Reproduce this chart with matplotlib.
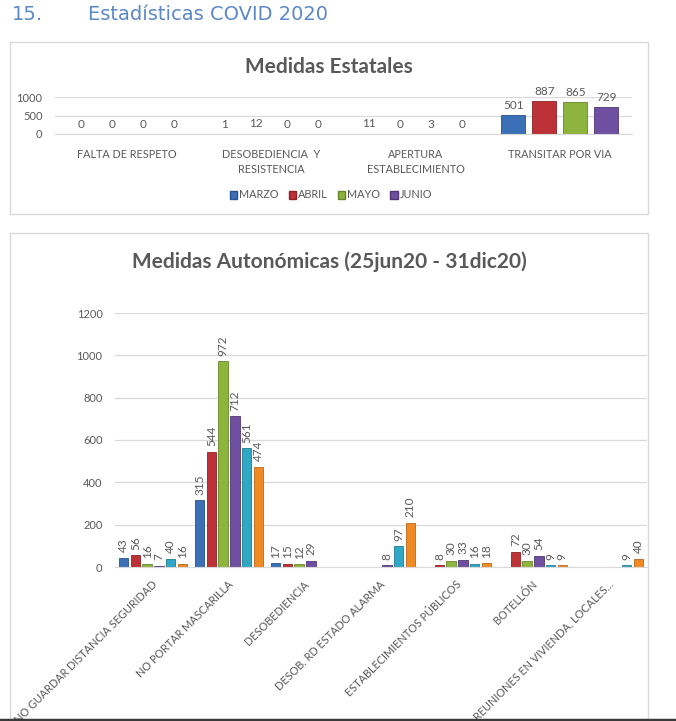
"""Estadísticas COVID 2020: medidas estatales y autonómicas (two bar panels)."""
import numpy as np
import matplotlib
matplotlib.use('Agg')
import matplotlib.pyplot as plt
from matplotlib.patches import Patch, Rectangle
from matplotlib.lines import Line2D

W, H = 676, 721
GRAY = '#595959'
GRID = '#d9d9d9'
FONT = ['Lato', 'DejaVu Sans']
plt.rcParams['font.family'] = FONT

# --- data: Medidas Estatales -------------------------------------------
est_categories = ['FALTA DE RESPETO', 'DESOBEDIENCIA  Y\nRESISTENCIA',
                  'APERTURA\nESTABLECIMIENTO', 'TRANSITAR POR VIA']
est_months = ['MARZO', 'ABRIL', 'MAYO', 'JUNIO']
est_marzo = [0, 1, 11, 501]
est_abril = [0, 12, 0, 887]
est_mayo = [0, 0, 3, 865]
est_junio = [0, 0, 0, 729]
est_ticks = [0, 500, 1000]

# --- data: Medidas Autonómicas (nan = no bar / no label) -----------------
aut_categories = ['NO GUARDAR DISTANCIA SEGURIDAD', 'NO PORTAR MASCARILLA',
                  'DESOBEDIENCIA', 'DESOB. RD ESTADO ALARMA',
                  'ESTABLECIMIENTOS PÚBLICOS', 'BOTELLÓN',
                  'REUNIONES EN VIVIENDA, LOCALES...']
nan = np.nan
aut_s1 = [43, 315, 17, nan, nan, nan, nan]
aut_s2 = [56, 544, 15, nan, 8, 72, nan]
aut_s3 = [16, 972, 12, nan, 30, 30, nan]
aut_s4 = [7, 712, 29, 8, 33, 54, nan]
aut_s5 = [40, 561, nan, 97, 16, 9, 9]
aut_s6 = [16, 474, nan, 210, 18, 9, 40]
aut_ticks = [0, 200, 400, 600, 800, 1000, 1200]

COLORS = ['#3c70b6', '#bd3237', '#8db43d', '#6f4f9f', '#2fa7c5', '#f08a24']
EDGES = ['#27528c', '#8c2226', '#66862a', '#4e3675', '#1f7d95', '#b8661a']


def px_axes(fig, left, top, right, bottom):
    return fig.add_axes([left / W, 1 - bottom / H, (right - left) / W, (bottom - top) / H])


def box(fig, left, top, right, bottom):
    fig.patches.append(Rectangle((left / W, 1 - bottom / H), (right - left) / W,
                                 (bottom - top) / H, transform=fig.transFigure,
                                 fill=False, edgecolor=GRID, linewidth=1.0, zorder=0))


def style_axes(ax, ticks):
    ax.set_yticks(ticks)
    ax.set_yticklabels([str(t) for t in ticks], fontsize=8, color=GRAY)
    ax.yaxis.grid(True, color=GRID, linewidth=0.9)
    ax.set_axisbelow(True)
    for s in ['top', 'right', 'left']:
        ax.spines[s].set_visible(False)
    ax.spines['bottom'].set_color(GRID)
    ax.tick_params(axis='both', length=0)
    ax.tick_params(axis='y', pad=9)


fig = plt.figure(figsize=(W / 100, H / 100), dpi=100)

# heading
fig.text(12 / W, 1 - 14 / H, '15.', fontsize=14, color='#5b88c6', va='center',
         family='DejaVu Sans')
fig.text(88 / W, 1 - 14 / H, 'Estadísticas COVID 2020', fontsize=14, color='#5b88c6',
         va='center', family='DejaVu Sans')

# ---------------- top panel ----------------
box(fig, 10, 42, 648, 214)
fig.text(329 / W, 1 - 67 / H, 'Medidas Estatales', fontsize=15, fontweight='bold',
         color=GRAY, ha='center', va='center')
ax1 = px_axes(fig, 55, 97, 632, 134)
x1 = np.arange(len(est_categories))
w1, step1 = 0.167, 0.215
handles = []
for i, (vals, name) in enumerate(zip([est_marzo, est_abril, est_mayo, est_junio], est_months)):
    pos = x1 + (i - 1.5) * step1
    ax1.bar(pos, vals, width=w1, color=COLORS[i], edgecolor=EDGES[i], linewidth=0.6)
    for xp, v in zip(pos, vals):
        ax1.annotate(str(v), (xp, v), xytext=(0, 3), textcoords='offset points',
                     ha='center', va='bottom', fontsize=8.5, color=GRAY,
                     annotation_clip=False)
    handles.append(Patch(facecolor=COLORS[i], edgecolor=EDGES[i], label=name))
ax1.set_xlim(-0.5, len(est_categories) - 0.5)
ax1.set_ylim(0, 1000)
style_axes(ax1, est_ticks)
ax1.set_xticks(x1)
ax1.set_xticklabels(est_categories, fontsize=7.8, color=GRAY, linespacing=1.4)
ax1.tick_params(axis='x', pad=11)
fig.legend(handles=handles, loc='center', bbox_to_anchor=(331 / W, 1 - 195 / H), ncol=4,
           frameon=False, fontsize=7.8, handlelength=0.7, handleheight=0.7,
           handletextpad=0.2, columnspacing=0.9, labelcolor=GRAY)

# ---------------- bottom panel ----------------
box(fig, 10, 233, 648, 760)
fig.text(329 / W, 1 - 262 / H, 'Medidas Autonómicas (25jun20 - 31dic20)', fontsize=15,
         fontweight='bold', color=GRAY, ha='center', va='center')
ax2 = px_axes(fig, 115, 313, 647, 567)
x2 = np.arange(len(aut_categories))
w2, step2 = 0.125, 0.154
for i, vals in enumerate([aut_s1, aut_s2, aut_s3, aut_s4, aut_s5, aut_s6]):
    pos = x2 + (i - 2.5) * step2
    ax2.bar(pos, vals, width=w2, color=COLORS[i], edgecolor=EDGES[i], linewidth=0.6)
    for xp, v in zip(pos, vals):
        if np.isnan(v):
            continue
        ax2.annotate('%d' % v, (xp, v), xytext=(0, 4), textcoords='offset points',
                     ha='center', va='bottom', rotation=90, fontsize=8.5, color=GRAY,
                     annotation_clip=False)
ax2.set_xlim(-0.5, len(aut_categories) - 0.5)
ax2.set_ylim(0, 1200)
style_axes(ax2, aut_ticks)
ax2.set_xticks(x2 + 0.03)
ax2.set_xticklabels(aut_categories, fontsize=7.8, color=GRAY, rotation=45,
                    ha='right', va='center', rotation_mode='anchor')
ax2.tick_params(axis='x', pad=11)

# dark page edge at the very bottom
fig.add_artist(Line2D([0, 1], [1.5 / H, 1.5 / H], transform=fig.transFigure,
                      color='#3a3a3a', linewidth=2.5))

fig.savefig('out.png', dpi=100)
